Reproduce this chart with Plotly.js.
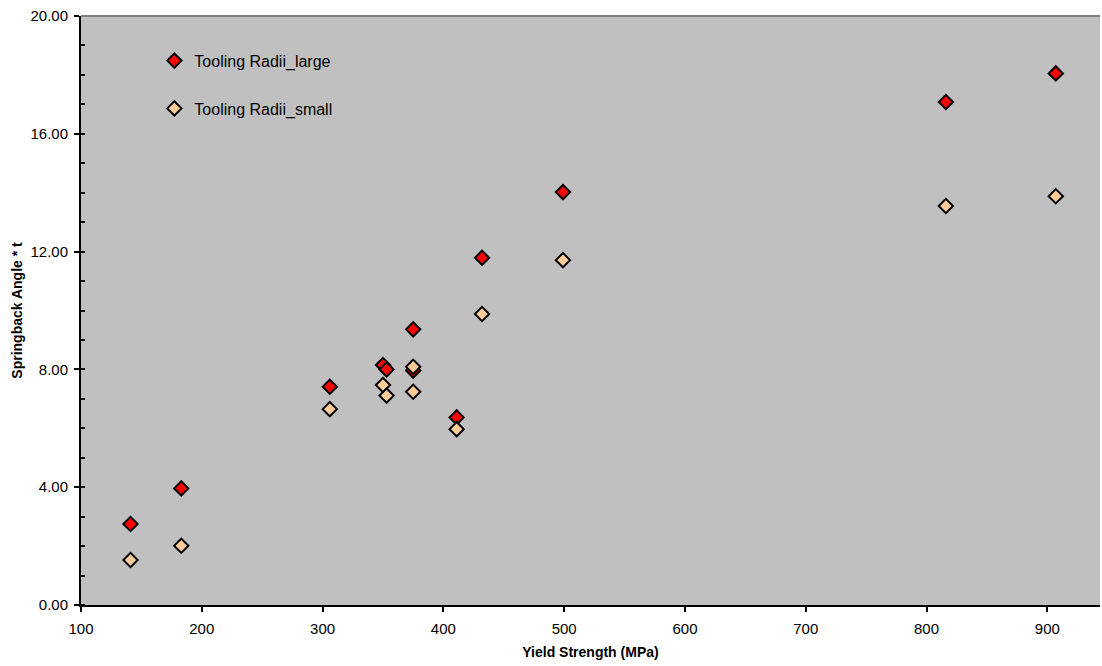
<!DOCTYPE html>
<html>
<head>
<meta charset="utf-8">
<script src="https://cdn.plot.ly/plotly-3.0.1.min.js"></script>
<style>html,body{margin:0;padding:0;background:#fff;}#chart{width:1102px;height:666px;}</style>
</head>
<body>
<div id="chart"></div>
<script>
// Yield strength (MPa) of each material
const yieldStrength = [141, 183, 306, 350, 353, 375, 375, 411, 432, 499, 816, 907];
// Springback angle * t, large tooling radii
const radiiLarge = [2.75, 3.96, 7.41, 8.15, 8.00, 9.36, 7.96, 6.37, 11.79, 14.02, 17.08, 18.05];
// Springback angle * t, small tooling radii
const radiiSmall = [1.53, 2.01, 6.65, 7.47, 7.11, 7.24, 8.09, 5.97, 9.88, 11.71, 13.55, 13.88];
const seriesNames = ["Tooling Radii_large", "Tooling Radii_small"];
const yTickVals = [0, 4, 8, 12, 16, 20];
const xTickVals = [100, 200, 300, 400, 500, 600, 700, 800, 900];

const font = "Liberation Sans, Arial, sans-serif";
const markerBase = {symbol: "diamond", size: 11, line: {color: "#000000", width: 2}};

const traces = [
  {x: yieldStrength, y: radiiLarge, name: seriesNames[0], legendgroup: "a", type: "scatter", mode: "markers",
   marker: Object.assign({}, markerBase, {color: "#FF0000"})},
  {x: yieldStrength, y: radiiSmall, name: seriesNames[1], legendgroup: "b", type: "scatter", mode: "markers",
   marker: Object.assign({}, markerBase, {color: "#FFCC99"})}
];

const layout = {
  width: 1102, height: 666,
  margin: {l: 81, r: 2, t: 16, b: 61, pad: 0},
  paper_bgcolor: "#FFFFFF",
  plot_bgcolor: "#C0C0C0",
  font: {family: font, size: 15, color: "#000000"},
  showlegend: true,
  legend: {x: 0.072, y: 0.953, xanchor: "left", yanchor: "top", bgcolor: "rgba(0,0,0,0)",
           traceorder: "grouped", tracegroupgap: 24, font: {family: font, size: 16, color: "#000"}},
  xaxis: {
    range: [100, 943.6], tickvals: xTickVals, ticktext: xTickVals.map(String),
    showgrid: false, zeroline: false, showline: true, linecolor: "#000000", linewidth: 2,
    ticks: "outside", ticklen: 5, tickwidth: 2, tickcolor: "#000", ticklabelstandoff: 4,
    tickfont: {family: font, size: 15},
    title: {text: "<b>Yield Strength (MPa)</b>", font: {family: font, size: 14}, standoff: 11},
    mirror: false
  },
  yaxis: {
    range: [0, 20], tickvals: yTickVals, ticktext: yTickVals.map(v => v.toFixed(2)),
    showgrid: false, zeroline: false, showline: true, linecolor: "#000000", linewidth: 2,
    ticks: "outside", ticklen: 5, tickwidth: 2, tickcolor: "#000", ticklabelstandoff: 3,
    minor: {dtick: 1, ticks: "inside", ticklen: 4, tickwidth: 2, tickcolor: "#000", showgrid: false},
    tickfont: {family: font, size: 15},
    title: {text: "<b>Springback Angle * t</b>", font: {family: font, size: 14}, standoff: 5}
  },
  shapes: [
    {type: "line", xref: "paper", yref: "paper", x0: 0, x1: 1, y0: 1, y1: 1, line: {color: "#808080", width: 2}}
  ]
};

Plotly.newPlot("chart", traces, layout, {displayModeBar: false, staticPlot: true});
</script>
</body>
</html>
